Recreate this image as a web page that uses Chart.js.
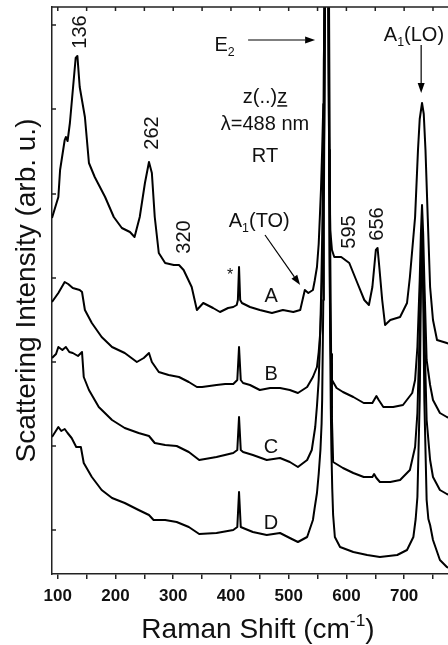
<!DOCTYPE html>
<html>
<head>
<meta charset="utf-8">
<script src="https://cdn.jsdelivr.net/npm/chart.js@4.4.0/dist/chart.umd.min.js"></script>
<style>
  html, body { margin: 0; padding: 0; background: #fff; }
</style>
</head>
<body>
<canvas id="chart" width="448" height="645"></canvas>
<script>
const FONT = "'Liberation Sans', Arial, sans-serif";

// Raman shift (cm^-1) and intensity (arb. u., spectra offset vertically)
const shiftA = [90,101,104,112,114,117,121,125,131,134,138,147,154,164,182,197,211,225,233,242,
  251,258,263,268,275,286,301,310,318,332,341,352,369,381,395,404,410,412,414,416,
  419,433,450,471,490,508,520,528,534,542,545,549,552,554,556,558,560,561,562,564,
  566,568,570,572,575,579,591,605,619,631,639,645,651,654,657,662,667,676,693,705,
  710,719,724,727,731,734,737,741,745,750,757,774,778];
const intA = [356,377,404,434,437,433,451,477,516,518,487,457,411,397,377,357,346,342,337,357,
  391,412,401,357,321,311,309,309,304,287,264,271,266,262,266,267,269,274,307,274,
  271,267,264,261,264,262,264,284,281,284,293,307,330,357,385,424,470,514,570,674,
  774,674,424,344,324,317,317,311,291,274,269,287,324,326,307,274,249,254,257,271,
  297,357,424,455,471,460,424,355,287,254,234,231,230];

const shiftB = [90,101,112,118,126,138,142,147,159,176,194,216,237,249,258,263,275,292,310,327,
  341,350,375,390,404,411,414,417,421,433,450,468,485,502,516,532,542,549,552,555,
  557,559,560.5,562,564,566,568,570,571,572,573.5,575,583,594,612,630,645,652,656,664,
  681,698,714,719,723,727,729,731,733,735,739,745,750,762,774,778];
const intB = [272,281,292,290,286,284,282,264,251,237,227,221,212,216,221,212,202,199,197,192,
  187,187,189,190,190,194,227,194,191,189,184,186,186,184,181,187,197,207,222,244,
  275,324,390,474,674,774,674,424,320,244,210,194,186,182,177,171,171,178,174,167,
  167,169,181,194,227,294,340,369,340,294,214,189,174,161,157,156];

const shiftC = [90,97,101,108,114,120,126,135,142,145,154,171,194,216,240,258,268,286,306,327,
  345,375,404,411,414,417,421,438,462,485,502,516,532,540,546,549,552,554,556,558,
  560,563,566,569,572,573.5,575,577,594,612,630,645,648,652,658,676,693,710,719,723,
  727,729,731,733,735,739,745,750,762,774,778];
const intC = [216,220,227,224,227,222,221,218,222,197,184,167,154,146,141,138,131,129,128,122,
  114,117,121,124,157,124,122,119,114,116,112,107,114,124,147,168,194,228,274,335,
  424,674,774,674,324,220,154,112,106,101,97,97,100,96,92,92,94,104,127,161,
  244,300,334,300,244,154,114,97,84,80,79];

const shiftD = [90,101,106,112,117,124,132,140,145,159,176,194,216,240,258,266,286,306,327,345,
  375,404,411,414,417,421,438,462,485,502,516,532,542,545,549,552,555,557,558,560,
  561,562,564,566,568,570,571,572,573,574,575.5,577,580,589,612,636,658,688,705,716,
  720,723,727,729,731,733,735,739,742,745,750,762,774,778];
const intD = [137,147,143,145,141,136,127,127,111,97,84,76,71,64,59,54,54,52,47,40,
  41,44,47,82,47,46,42,39,41,36,32,37,54,66,81,100,124,150,174,274,
  370,474,674,774,674,424,310,224,165,124,85,59,37,27,22,19,17,19,24,37,
  55,77,174,280,344,280,174,74,55,49,34,14,7,6];

const xTickStep = 50;
const yTicks = [44, 128, 212, 296, 380, 465, 549];

// text notes, in data coordinates; parts: [text, kind] kind = '' | 'sub' | 'sup' | 'u'
const notes = [
  { parts: [['136']], x: 136.8, y: 542, rot: true },
  { parts: [['262']], x: 261.6, y: 441, rot: true },
  { parts: [['320']], x: 317, y: 337, rot: true },
  { parts: [['595']], x: 603, y: 342, rot: true },
  { parts: [['656']], x: 651.5, y: 350, rot: true },
  { parts: [['A'], ['1', 'sub'], ['(LO)']], x: 717, y: 540 },
  { parts: [['E'], ['2', 'sub']], x: 389, y: 530 },
  { parts: [['z(..)'], ['z', 'u']], x: 459, y: 478 },
  { parts: [['\u03bb=488 nm']], x: 459, y: 451 },
  { parts: [['RT']], x: 459, y: 419 },
  { parts: [['A'], ['1', 'sub'], ['(TO)']], x: 449, y: 354 },
  { parts: [['*']], x: 398.5, y: 300, size: 16 },
  { parts: [['A']], x: 469.5, y: 279 },
  { parts: [['B']], x: 469.5, y: 201 },
  { parts: [['C']], x: 469.5, y: 128 },
  { parts: [['D']], x: 469.5, y: 52 }
];

const arrows = [
  { from: [429.7, 534], to: [545.8, 534] },
  { from: [729.5, 529], to: [729.5, 481] },
  { from: [459, 339], to: [519.8, 289] }
];

const spectra = [
  { name: 'A', x: shiftA, y: intA },
  { name: 'B', x: shiftB, y: intB },
  { name: 'C', x: shiftC, y: intC },
  { name: 'D', x: shiftD, y: intD }
];

function drawParts(ctx, parts, size, cx, cy) {
  const items = parts.map(([t, kind]) => {
    const fs = (kind === 'sub' || kind === 'sup') ? size * 0.62 : size;
    ctx.font = fs + 'px ' + FONT;
    return { t, kind, fs, w: ctx.measureText(t).width };
  });
  const total = items.reduce((a, b) => a + b.w, 0);
  let x = cx - total / 2;
  const base = cy + size * 0.358;
  ctx.textAlign = 'left';
  ctx.textBaseline = 'alphabetic';
  for (const it of items) {
    ctx.font = it.fs + 'px ' + FONT;
    let yb = base;
    if (it.kind === 'sub') yb += size * 0.22;
    if (it.kind === 'sup') yb -= size * 0.42;
    ctx.fillText(it.t, x, yb);
    if (it.kind === 'u') {
      ctx.fillRect(x, base + 2, it.w, 1.5);
    }
    x += it.w;
  }
}

function drawArrow(ctx, x1, y1, x2, y2) {
  const ang = Math.atan2(y2 - y1, x2 - x1);
  const hl = 10, hw = 3.5;
  ctx.beginPath();
  ctx.moveTo(x1, y1);
  ctx.lineTo(x2 - hl * Math.cos(ang), y2 - hl * Math.sin(ang));
  ctx.stroke();
  ctx.beginPath();
  ctx.moveTo(x2, y2);
  ctx.lineTo(x2 - hl * Math.cos(ang) + hw * Math.sin(ang), y2 - hl * Math.sin(ang) - hw * Math.cos(ang));
  ctx.lineTo(x2 - hl * Math.cos(ang) - hw * Math.sin(ang), y2 - hl * Math.sin(ang) + hw * Math.cos(ang));
  ctx.closePath();
  ctx.fill();
}

const framePlugin = {
  id: 'frame',
  afterDraw(chart) {
    const { ctx, chartArea: area, scales: { x, y } } = chart;
    ctx.save();
    ctx.strokeStyle = '#222';
    ctx.fillStyle = '#111';
    ctx.lineWidth = 1.5;
    // top border and inward ticks
    ctx.beginPath();
    ctx.moveTo(area.left, area.top);
    ctx.lineTo(area.right, area.top);
    for (let v = 100; v <= x.max; v += xTickStep) {
      const px = x.getPixelForValue(v);
      ctx.moveTo(px, area.top);
      ctx.lineTo(px, area.top + 4);
    }
    // left inward ticks
    for (const v of yTicks) {
      const py = y.getPixelForValue(v);
      ctx.moveTo(area.left, py);
      ctx.lineTo(area.left + 4, py);
    }
    ctx.stroke();

    // axis titles
    ctx.save();
    ctx.translate(25, (area.top + area.bottom) / 2);
    ctx.rotate(-Math.PI / 2);
    drawParts(ctx, [['Scattering Intensity (arb. u.)']], 28, 0, 0);
    ctx.restore();
    drawParts(ctx, [['Raman Shift (cm'], ['-1', 'sup'], [')']], 28, 258, 628);

    // notes
    for (const n of notes) {
      const px = x.getPixelForValue(n.x), py = y.getPixelForValue(n.y);
      const size = n.size || 20;
      if (n.rot) {
        ctx.save();
        ctx.translate(px, py);
        ctx.rotate(-Math.PI / 2);
        drawParts(ctx, n.parts, size, 0, 0);
        ctx.restore();
      } else {
        drawParts(ctx, n.parts, size, px, py);
      }
    }
    ctx.lineWidth = 1.2;
    ctx.strokeStyle = '#000';
    ctx.fillStyle = '#000';
    for (const a of arrows) {
      drawArrow(ctx, x.getPixelForValue(a.from[0]), y.getPixelForValue(a.from[1]),
        x.getPixelForValue(a.to[0]), y.getPixelForValue(a.to[1]));
    }
    ctx.restore();
  }
};

new Chart(document.getElementById('chart').getContext('2d'), {
  type: 'scatter',
  data: {
    datasets: spectra.map(s => ({
      label: s.name,
      data: s.x.map((v, i) => ({ x: v, y: s.y[i] })),
      showLine: true,
      borderColor: '#000',
      borderWidth: 2,
      borderJoinStyle: 'round',
      pointRadius: 0,
      tension: 0,
      fill: false
    }))
  },
  options: {
    responsive: false,
    animation: false,
    layout: { padding: { top: 7, right: 0, left: 0, bottom: 0 } },
    plugins: { legend: { display: false }, tooltip: { enabled: false } },
    scales: {
      x: {
        type: 'linear',
        min: 90,
        max: 776,
        afterFit: s => { s.height = 71; },
        ticks: {
          stepSize: xTickStep,
          includeBounds: false,
          autoSkip: false,
          maxRotation: 0,
          padding: 7,
          color: '#111',
          font: { family: FONT, size: 17, weight: 'bold' },
          callback: v => (v % 100 === 0 ? v : '')
        },
        grid: { drawOnChartArea: false, drawTicks: true, tickLength: 5, color: '#222', lineWidth: 1.5 },
        border: { display: true, color: '#222', width: 1.5 }
      },
      y: {
        min: 0,
        max: 567,
        afterFit: s => { s.width = 52; },
        afterBuildTicks: s => { s.ticks = yTicks.map(v => ({ value: v })); },
        ticks: { display: false },
        grid: { display: false },
        border: { display: true, color: '#222', width: 1.5 }
      }
    }
  },
  plugins: [framePlugin]
});
</script>
</body>
</html>
